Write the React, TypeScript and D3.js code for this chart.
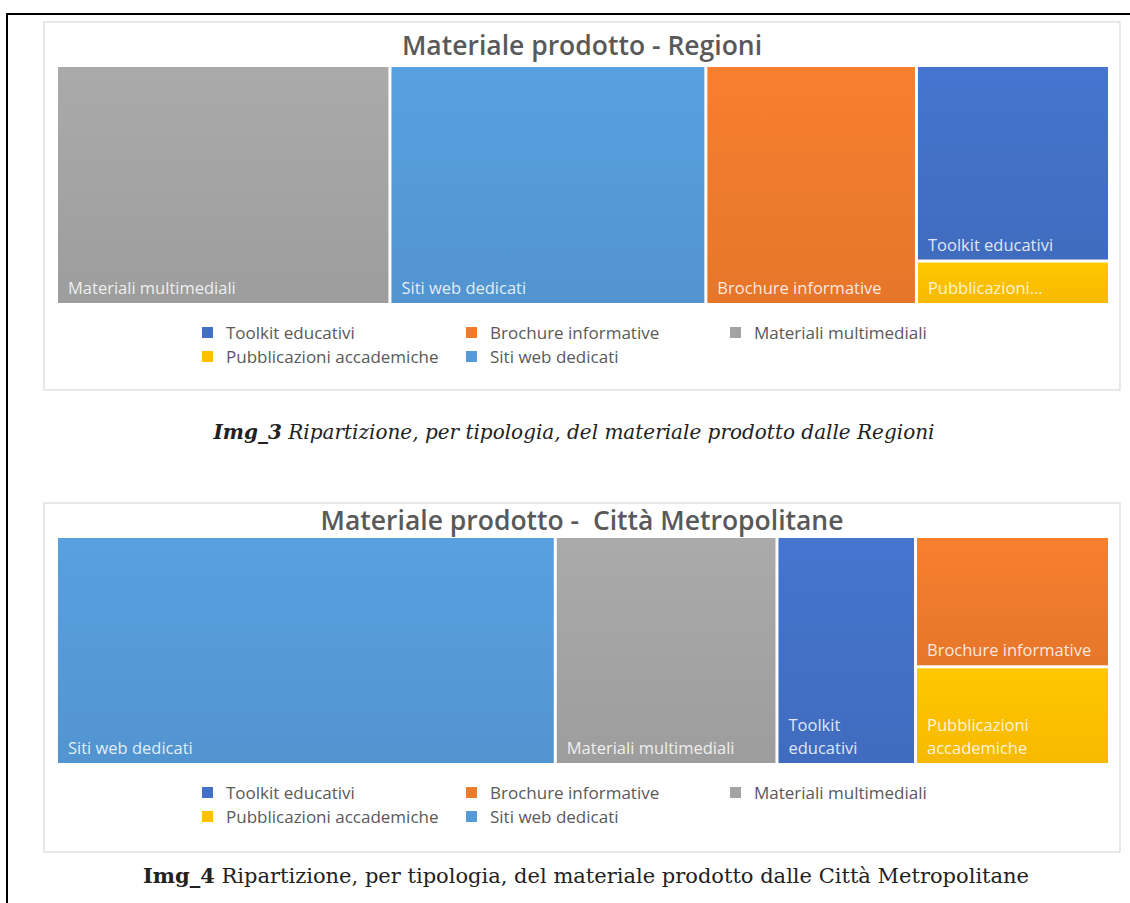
import * as d3 from "d3";
import { useMemo } from "react";

// categories in legend order (Excel treemap, Office palette)
const categories = [
  "Toolkit educativi",
  "Brochure informative",
  "Materiali multimediali",
  "Pubblicazioni accademiche",
  "Siti web dedicati",
];
const palette = ["#4270C6", "#EE7A2C", "#A3A3A3", "#FFC000", "#5599D8"];

// values read off the treemap areas (estimated)
const regioniValues = [9, 12, 19, 2, 18];
const cittaValues = [5, 4, 8, 3, 18];

const W = 1130;
const H = 903;
const LABEL_SIZE = 16.5;
const LINE_H = 23;
const LABEL_FONT = `${LABEL_SIZE}px 'Open Sans'`;

let ctx: CanvasRenderingContext2D | null = null;
function textWidth(s: string, font: string) {
  if (!ctx) ctx = document.createElement("canvas").getContext("2d");
  ctx!.font = font;
  return ctx!.measureText(s).width;
}

function fitLabel(name: string, w: number, h: number): string[] {
  const avail = w - 20;
  if (textWidth(name, LABEL_FONT) <= avail) return [name];
  const words = name.split(" ");
  const lines: string[] = [];
  let cur = "";
  for (const word of words) {
    const next = cur ? cur + " " + word : word;
    if (textWidth(next, LABEL_FONT) <= avail || !cur) cur = next;
    else {
      lines.push(cur);
      cur = word;
    }
  }
  if (cur) lines.push(cur);
  if (lines.length * LINE_H + 12 <= h) return lines;
  return [words[0] + "..."];
}

interface Item {
  name: string;
  value?: number;
  color?: string;
  children?: Item[];
}

function buildTree(values: number[]): Item {
  const items = categories
    .map((name, i) => ({ name, value: values[i], color: palette[i] }))
    .sort((a, b) => b.value - a.value);
  return {
    name: "root",
    children: [...items.slice(0, 3), { name: "rest", children: items.slice(3) }],
  };
}

interface ChartProps {
  id: string;
  title: string;
  values: number[];
  cardTop: number;
  cardBottom: number;
  titleY: number;
  mapTop: number;
  mapBottom: number;
}

const mapLeft = 58;
const mapRight = 1108;
const legendLeft = 202;
const legendCol = 264;

function Treemap({ id, title, values, cardTop, cardBottom, titleY, mapTop, mapBottom }: ChartProps) {
  const leaves = useMemo(() => {
    const root = d3
      .hierarchy<Item>(buildTree(values))
      .sum((d) => d.value ?? 0);
    d3
      .treemap<Item>()
      .tile(d3.treemapSliceDice)
      .size([mapRight - mapLeft, mapBottom - mapTop])
      .paddingInner(3)(root);
    return (root as d3.HierarchyRectangularNode<Item>).leaves();
  }, [values, mapTop, mapBottom]);

  return (
    <g>
      <rect
        x={44}
        y={cardTop}
        width={1120 - 44}
        height={cardBottom - cardTop}
        fill="#fff"
        stroke="#d9d9d9"
        strokeWidth={1.2}
      />
      <text
        x={(44 + 1120) / 2}
        y={titleY}
        textAnchor="middle"
        fontFamily="'Open Sans', sans-serif"
        fontSize={26.5}
        fontWeight={600}
        fill="#595959"
        style={{ whiteSpace: "pre" }}
      >
        {title}
      </text>
      <g transform={`translate(${mapLeft},${mapTop})`}>
        {leaves.map((leaf) => {
          const w = leaf.x1 - leaf.x0;
          const h = leaf.y1 - leaf.y0;
          const lines = fitLabel(leaf.data.name, w, h);
          return (
            <g key={leaf.data.name}>
              <rect
                x={leaf.x0}
                y={leaf.y0}
                width={w}
                height={h}
                fill={`url(#${id}-${categories.indexOf(leaf.data.name)})`}
              />
              {lines.map((ln, i) => (
                <text
                  key={i}
                  x={leaf.x0 + 10}
                  y={leaf.y1 - 9 - (lines.length - 1 - i) * LINE_H}
                  fontFamily="'Open Sans', sans-serif"
                  fontSize={LABEL_SIZE}
                  fill="#fff"
                  fillOpacity={0.85}
                >
                  {ln}
                </text>
              ))}
            </g>
          );
        })}
      </g>
      {categories.map((name, i) => {
        const col = i % 3;
        const row = Math.floor(i / 3);
        const lx = legendLeft + col * legendCol;
        const ly = mapBottom + 30 + row * 24;
        return (
          <g key={name}>
            <rect x={lx} y={ly - 6} width={11} height={11} fill={palette[i]} />
            <text
              x={lx + 24}
              y={ly + 5.5}
              fontFamily="'Open Sans', sans-serif"
              fontSize={17}
              fill="#595959"
            >
              {name}
            </text>
          </g>
        );
      })}
    </g>
  );
}

export default function App() {
  return (
    <svg
      width={W}
      height={H}
      viewBox={`0 0 ${W} ${H}`}
      style={{ position: "absolute", left: 0, top: 0, background: "#fff" }}
    >
      <defs>
        {["a", "b"].map((id) =>
          palette.map((c, i) => (
            <linearGradient key={id + i} id={`${id}-${i}`} x1="0" y1="0" x2="0" y2="1">
              <stop offset="0%" stopColor={d3.color(c)!.brighter(0.12).formatHex()} />
              <stop offset="100%" stopColor={d3.color(c)!.darker(0.1).formatHex()} />
            </linearGradient>
          ))
        )}
      </defs>
      <path d={`M7,${H + 5} V14 H${W + 5}`} fill="none" stroke="#000" strokeWidth={2} />

      <Treemap
        id="a"
        title="Materiale prodotto - Regioni"
        values={regioniValues}
        cardTop={22}
        cardBottom={390}
        titleY={55}
        mapTop={67}
        mapBottom={303}
      />
      <text
        x={574}
        y={439}
        textAnchor="middle"
        fontFamily="'DejaVu Serif', serif"
        fontSize={20}
        fontStyle="italic"
        fill="#222"
      >
        <tspan fontWeight={700}>Img_3</tspan> Ripartizione, per tipologia, del materiale prodotto dalle Regioni
      </text>

      <Treemap
        id="b"
        title="Materiale prodotto -  Città Metropolitane"
        values={cittaValues}
        cardTop={503}
        cardBottom={852}
        titleY={530}
        mapTop={538}
        mapBottom={763}
      />
      <text
        x={586}
        y={883}
        textAnchor="middle"
        fontFamily="'DejaVu Serif', serif"
        fontSize={21}
        fill="#222"
      >
        <tspan fontWeight={700}>Img_4</tspan> Ripartizione, per tipologia, del materiale prodotto dalle Città Metropolitane
      </text>
    </svg>
  );
}
